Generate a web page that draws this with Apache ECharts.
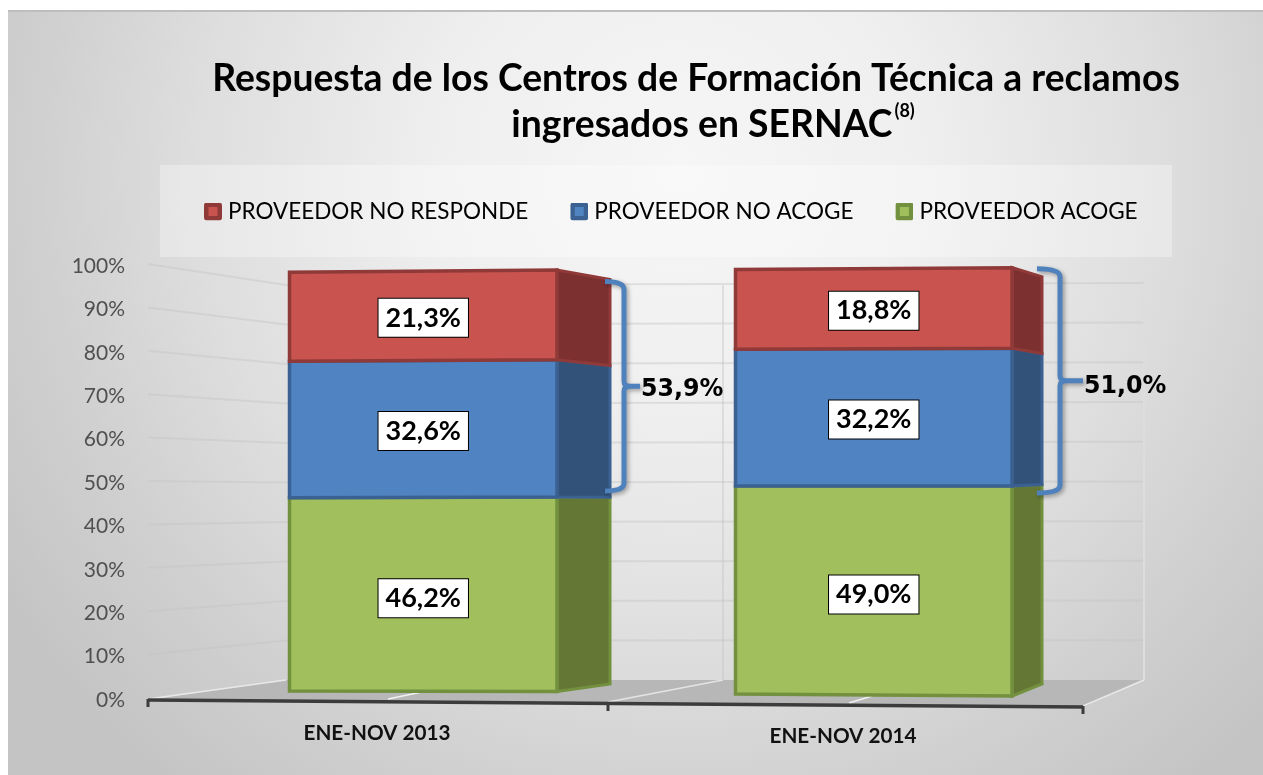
<!DOCTYPE html>
<html>
<head>
<meta charset="utf-8">
<title>Respuesta CFT</title>
<style>
html,body{margin:0;padding:0;background:#fff;}
#chart{width:1263px;height:775px;}
</style>
<script src="https://cdn.jsdelivr.net/npm/echarts@6/dist/echarts.min.js"></script>
</head>
<body>
<div id="chart"></div>
<script>
var categories=["ENE-NOV 2013","ENE-NOV 2014"];
var tickValues=[0,10,20,30,40,50,60,70,80,90,100];
var noResponde=[21.3,18.8];
var noAcoge=[32.6,32.2];
var acoge=[46.2,49.0];
var totales=[53.9,51.0];

var FONT="Lato, 'Noto Sans', sans-serif";

// falso 3D: cada barra tiene tres aristas verticales (dx desde el centro de la categoria)
var vistas=[
	{left:{dx:-87.5,off:-9,k:.964},right:{dx:180,off:-8.5,k:.970},back:{dx:233,off:-16,k:.931},
	 llave:{dx0:228,dx1:247,tail:263,top:11,bottom:-6,textDy:3}},
	{left:{dx:-107.5,off:-6,k:.978},right:{dx:169,off:-4,k:.987},back:{dx:199,off:-16,k:.938},
	 llave:{dx0:194,dx1:217,tail:240,top:1,bottom:7,textDy:6}}
];
var colores={
	red:{face:"#c8534f",line:"#8f3a38",side:"#7c3030",labelDy:2},
	blue:{face:"#5083c1",line:"#3b6193",side:"#325279",labelDy:2},
	green:{face:"#a1c05d",line:"#73903f",side:"#647735",labelDy:4}
};

function edgeY(api,v,e){
	var base=api.coord([0,0])[1];
	var p=api.coord([0,v])[1];
	return base+e.off+(p-base)*e.k;
}
function pct(v){
	return v.toFixed(1).replace(".",",")+"%";
}
function poly(points,fill,stroke,w){
	return {type:"polygon",shape:{points:points},style:{fill:fill,stroke:stroke,lineWidth:w,lineJoin:"miter"}};
}
function line(x1,y1,x2,y2,color,w){
	return {type:"line",shape:{x1:x1,y1:y1,x2:x2,y2:y2},style:{stroke:color,lineWidth:w}};
}
// icono de la leyenda: cuadro oscuro con centro claro
function iconoLeyenda(col){
	var svg='<svg xmlns="http://www.w3.org/2000/svg" width="18" height="18">'+
		'<rect width="18" height="18" rx="3" fill="'+col.line+'"/>'+
		'<rect x="4.5" y="4.5" width="9" height="9" fill="'+col.face+'"/></svg>';
	return "image://data:image/svg+xml;charset=utf-8,"+encodeURIComponent(svg);
}

function barItem(col){
	return function(params,api){
		var i=api.value(0),a=api.value(1),b=api.value(2);
		var v=vistas[i];
		var cx=api.coord([i,0])[0];
		var xl=cx+v.left.dx,xr=cx+v.right.dx,xb=cx+v.back.dx;
		var side=poly([[xr,edgeY(api,a,v.right)],[xb,edgeY(api,a,v.back)],[xb,edgeY(api,b,v.back)],[xr,edgeY(api,b,v.right)]],col.side,col.line,3);
		var front=poly([[xl,edgeY(api,a,v.left)],[xr,edgeY(api,a,v.right)],[xr,edgeY(api,b,v.right)],[xl,edgeY(api,b,v.left)]],col.face,col.line,3.5);
		var mid=(a+b)/2;
		var label={type:"text",z2:10,style:{
			text:pct(b-a),
			x:(xl+xr)/2,
			y:(edgeY(api,mid,v.left)+edgeY(api,mid,v.right))/2+col.labelDy,
			align:"center",verticalAlign:"middle",
			font:"bold 27px "+FONT,fill:"#000",
			textBorderColor:"#000",textBorderWidth:1,
			backgroundColor:"#fff",borderColor:"#000",borderWidth:2.5,
			padding:[5,7,6,7]
		}};
		return {type:"group",children:[side,front,label]};
	};
}

function fondoItem(params,api){
	var cs=params.coordSys;
	var x0=cs.x,y0=api.coord([0,0])[1];
	var wl={dx:142,off:-20,k:.91},wr={dx:1000,off:-20,k:.915};
	var gris="rgba(196,196,196,.42)";
	var out=[];
	// piso
	out.push(poly([[x0+4,y0],[x0+142,y0-20],[x0+1000,y0-20],[x0+939,y0+7]],"#b7b7b7",null,0));
	out.push(line(x0+4,y0-1,x0+142,y0-20,"#e8e8e8",1.5));
	out.push(line(x0+939,y0+6,x0+1000,y0-20,"#e8e8e8",1.5));
	out.push(line(x0+464,y0+2,x0+579,y0-20,"#e4e4e4",1.5));
	out.push(line(x0+244,y0-1,x0+278,y0-8,"#f2f2f2",1.5));
	out.push(line(x0+705,y0+3,x0+728,y0-4,"#f2f2f2",1.5));
	// paredes
	for(var n=1;n<tickValues.length;n++){
		var t=tickValues[n];
		var yA=api.coord([0,t])[1]-2;
		var yL=edgeY(api,t,wl),yR=edgeY(api,t,wr);
		out.push(line(x0+4,yA,x0+142,yL,gris,2));
		out.push(line(x0+142,yL,x0+1000,yR,gris,2));
	}
	out.push(line(x0+579,edgeY(api,100,wl),x0+579,y0-20,gris,2));
	out.push(line(x0+1000,edgeY(api,100,wr),x0+1000,y0-20,"#dddddd",2));
	// eje inclinado
	out.push(line(x0+4,y0,x0+939,y0+7,"#3c3c3c",3.5));
	out.push(line(x0+4,y0-1,x0+4,y0+7,"#3c3c3c",3));
	out.push(line(x0+464,y0+3,x0+464,y0+11,"#3c3c3c",3));
	out.push(line(x0+939,y0+6,x0+939,y0+14,"#3c3c3c",3));
	return {type:"group",children:out};
}

function llaveItem(params,api){
	var i=api.value(0);
	var v=vistas[i],ll=v.llave;
	var cx=api.coord([i,0])[0];
	var x0=cx+ll.dx0,x1=cx+ll.dx1,xt=cx+ll.tail;
	var yT=edgeY(api,api.value(2),v.right)+ll.top;
	var yB=edgeY(api,api.value(1),v.right)+ll.bottom;
	var yM=(yT+yB)/2;
	var d="M"+x0+" "+yT+" Q"+x1+" "+yT+" "+x1+" "+(yT+8)+
		" L"+x1+" "+(yM-5)+" Q"+x1+" "+yM+" "+(x1+6)+" "+yM+" L"+xt+" "+yM+
		" M"+(x1+6)+" "+yM+" Q"+x1+" "+yM+" "+x1+" "+(yM+5)+
		" L"+x1+" "+(yB-8)+" Q"+x1+" "+yB+" "+x0+" "+yB;
	return {type:"group",children:[
		{type:"path",shape:{pathData:d},style:{fill:"none",stroke:"#4f81bd",lineWidth:5,shadowBlur:4,shadowOffsetX:2,shadowOffsetY:2,shadowColor:"rgba(0,0,0,.35)"}},
		{type:"text",x:xt+1,y:yM+ll.textDy,scaleX:.95,style:{text:pct(api.value(3)),x:0,y:0,align:"left",verticalAlign:"middle",
			font:"bold 25px 'DejaVu Sans'",fill:"#000",shadowBlur:3,shadowColor:"rgba(0,0,0,.3)"}}
	]};
}

function tramos(abajo,valores){
	var r=[];
	for(var i=0;i<valores.length;i++){
		var base=abajo?abajo[i]:0;
		r.push([i,base,base+valores[i]]);
	}
	return r;
}
var sumaVerde=acoge;
var sumaAzul=[];
var llaves=[];
for(var i=0;i<acoge.length;i++){
	sumaAzul.push(acoge[i]+noAcoge[i]);
	llaves.push([i,acoge[i],100,totales[i]]);
}

function serieBarra(nombre,col,datos,z){
	return {
		name:nombre,type:"custom",z:z,
		itemStyle:{color:col.face},
		renderItem:barItem(col),
		encode:{x:0,y:[1,2]},
		data:datos
	};
}

var myChart=echarts.init(document.getElementById("chart"));
var option={
	animation:false,
	graphic:[
		{type:"rect",z:-10,shape:{x:8,y:11,width:1255,height:764},style:{
			fill:new echarts.graphic.RadialGradient(680,170,800,[
				{offset:0,color:"#f6f6f6"},{offset:.3,color:"#efefef"},{offset:.6,color:"#dedede"},
				{offset:.8,color:"#d0d0d0"},{offset:1,color:"#c4c4c4"}],true)
		}},
		{type:"rect",z:-10,shape:{x:8,y:10,width:1255,height:2},style:{fill:"#bdbdbd"}},
		{type:"rect",z:-9,shape:{x:160,y:165,width:1012,height:92},style:{fill:"rgba(255,255,255,.32)"}}
	],
	title:{
		left:691,top:51,textAlign:"center",
		text:"Respuesta de los Centros de Formación Técnica a reclamos\n{pad| }ingresados en SERNAC{sup|(8)}",
		textStyle:{
			fontFamily:FONT,fontWeight:"bold",fontSize:37.3,color:"#000",lineHeight:46,
			rich:{
				pad:{width:34,fontSize:37},
				sup:{fontFamily:FONT,fontWeight:"bold",fontSize:18,color:"#000",verticalAlign:"top",lineHeight:30,padding:[0,0,0,2]}
			}
		}
	},
	legend:{
		left:199,top:195,itemWidth:18,itemHeight:18,itemGap:42,
		data:[
			{name:"PROVEEDOR NO RESPONDE",icon:iconoLeyenda(colores.red)},
			{name:"PROVEEDOR NO ACOGE",icon:iconoLeyenda(colores.blue)},
			{name:"PROVEEDOR ACOGE",icon:iconoLeyenda(colores.green)}
		],
		textStyle:{fontFamily:FONT,fontSize:22.5,color:"#000",padding:[0,0,0,1]}
	},
	grid:{left:144,width:932,top:266,height:434},
	xAxis:{
		type:"category",data:categories,
		axisLine:{show:false},axisTick:{show:false},
		axisLabel:{
			margin:23,color:"#111",fontFamily:FONT,fontWeight:"bold",fontSize:20.7,
			formatter:function(value,index){
				return index==1?"{b|"+value+"}":value;
			},
			rich:{b:{fontFamily:FONT,fontWeight:"bold",fontSize:20.7,color:"#111",padding:[3,0,0,0]}}
		}
	},
	yAxis:{
		type:"value",min:0,max:100,interval:10,
		axisLine:{show:false},axisTick:{show:false},splitLine:{show:false},
		axisLabel:{margin:19,color:"#505050",fontFamily:FONT,fontSize:21,formatter:"{value}%"}
	},
	series:[
		{type:"custom",z:1,silent:true,renderItem:fondoItem,encode:{x:0,y:1},data:[[0,0]]},
		serieBarra("PROVEEDOR ACOGE",colores.green,tramos(null,acoge),2),
		serieBarra("PROVEEDOR NO ACOGE",colores.blue,tramos(sumaVerde,noAcoge),3),
		serieBarra("PROVEEDOR NO RESPONDE",colores.red,tramos(sumaAzul,noResponde),4),
		{type:"custom",z:5,silent:true,renderItem:llaveItem,encode:{x:0,y:[1,2]},data:llaves}
	]
};
myChart.setOption(option);
</script>
</body>
</html>
